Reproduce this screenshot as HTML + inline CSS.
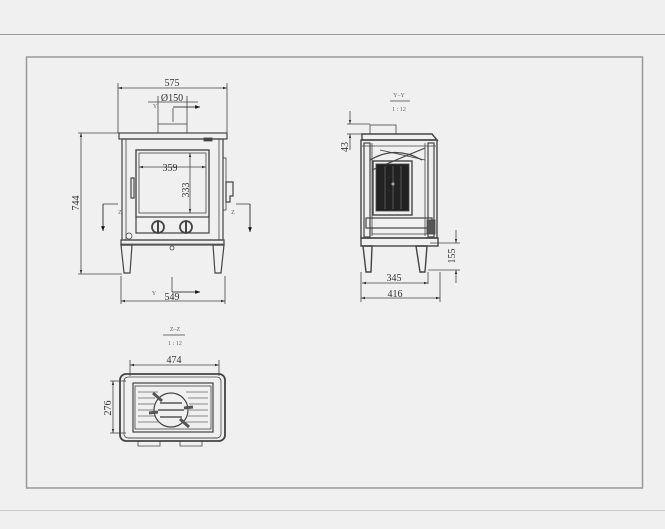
<!DOCTYPE html>
<html><head><meta charset="utf-8"><style>
html,body{margin:0;padding:0;background:#f0f0f0;}
svg{display:block}
text{font-family:"Liberation Serif",serif;fill:#333;}
</style></head><body>
<svg width="665" height="529" viewBox="0 0 665 529" xmlns="http://www.w3.org/2000/svg">
<defs>
<marker id="a" viewBox="0 0 10 10" refX="10" refY="5" markerWidth="5" markerHeight="5" orient="auto-start-reverse"><path d="M0,2 L10,5 L0,8z" fill="#333"/></marker>
<marker id="b" viewBox="0 0 10 10" refX="10" refY="5" markerWidth="8" markerHeight="6" orient="auto"><path d="M0,1 L10,5 L0,9z" fill="#111"/></marker>
</defs>
<rect width="665" height="529" fill="#f0f0f0"/>
<line x1="0" y1="34.5" x2="665" y2="34.5" stroke="#999" stroke-width="1"/>
<rect x="26.5" y="57" width="616" height="431" fill="none" stroke="#999" stroke-width="1.5"/>
<line x1="0" y1="510.5" x2="665" y2="510.5" stroke="#ccc" stroke-width="1"/>

<g stroke="#444" fill="none" stroke-width="0.8">
<!-- FRONT VIEW -->
<line x1="118" y1="83" x2="118" y2="133"/><line x1="227" y1="83" x2="227" y2="133"/>
<line x1="118" y1="88" x2="227" y2="88" marker-start="url(#a)" marker-end="url(#a)"/>
<line x1="148" y1="102" x2="198" y2="102"/>
<line x1="158" y1="96" x2="158" y2="124"/><line x1="187" y1="96" x2="187" y2="124"/>
<line x1="173" y1="108" x2="173" y2="122"/><line x1="173" y1="107" x2="200" y2="107" marker-end="url(#b)" stroke="#111"/>
<rect x="158" y="124" width="29" height="9"/>
<rect x="119" y="133" width="108" height="6" stroke-width="1.2"/>
<rect x="122" y="139" width="101" height="101" stroke-width="1.2"/>
<line x1="126" y1="139" x2="126" y2="240"/><line x1="219" y1="139" x2="219" y2="240"/>
<rect x="136" y="150" width="73" height="83" stroke-width="1.2"/>
<rect x="136" y="150" width="73" height="67" stroke-width="1.2"/>
<rect x="139" y="153" width="67" height="60"/>
<rect x="131" y="178" width="3" height="20" stroke-width="1.2"/>
<circle cx="158" cy="227" r="6" stroke-width="1.8"/><line x1="158" y1="221" x2="158" y2="233" stroke-width="2"/>
<circle cx="186" cy="227" r="6" stroke-width="1.8"/><line x1="186" y1="221" x2="186" y2="233" stroke-width="2"/>
<circle cx="129" cy="236" r="3"/>
<rect x="223" y="158" width="3" height="52"/>
<path d="M226,182 h7 v14 h-3 v6 h-4z" stroke-width="1.2"/>
<rect x="204" y="138" width="8" height="3" fill="#444"/>
<rect x="121" y="240" width="103" height="5" stroke-width="1.2"/>
<line x1="121" y1="244" x2="224" y2="244"/>
<path d="M121,245 L132,245 L130,273 L124,273 Z" stroke-width="1.2"/>
<path d="M213,245 L224,245 L221,273 L215,273 Z" stroke-width="1.2"/>
<circle cx="172" cy="248" r="2"/>
<!-- 744 -->
<line x1="78" y1="133" x2="120" y2="133"/><line x1="78" y1="274" x2="122" y2="274"/>
<line x1="81" y1="133" x2="81" y2="274" marker-start="url(#a)" marker-end="url(#a)"/>
<!-- 549 -->
<line x1="121" y1="276" x2="121" y2="304"/><line x1="225" y1="276" x2="225" y2="304"/>
<line x1="121" y1="301" x2="225" y2="301" marker-start="url(#a)" marker-end="url(#a)"/>
<line x1="172" y1="277" x2="172" y2="292"/><line x1="172" y1="292" x2="200" y2="292" marker-end="url(#b)" stroke="#111"/>
<!-- 359 / 333 -->
<line x1="139" y1="167" x2="206" y2="167" marker-start="url(#a)" marker-end="url(#a)"/>
<line x1="190" y1="153" x2="190" y2="213" marker-start="url(#a)" marker-end="url(#a)"/>
<!-- Z markers -->
<line x1="103" y1="204" x2="118" y2="204"/><line x1="103" y1="204" x2="103" y2="231" marker-end="url(#b)" stroke="#111"/>
<line x1="236" y1="204" x2="250" y2="204"/><line x1="250" y1="204" x2="250" y2="232" marker-end="url(#b)" stroke="#111"/>

<!-- SIDE VIEW -->
<line x1="390" y1="101" x2="410" y2="101"/>
<line x1="347" y1="124" x2="370" y2="124"/><line x1="347" y1="134" x2="362" y2="134"/>
<line x1="350" y1="111" x2="350" y2="124" marker-end="url(#a)"/><line x1="350" y1="150" x2="350" y2="134" marker-end="url(#a)"/>
<rect x="370" y="125" width="26" height="9"/>
<path d="M362,134 L432,134 L437,140 L362,140 Z" stroke-width="1.4"/>
<rect x="361" y="140" width="76" height="98" stroke-width="1.4"/>
<rect x="364" y="143" width="6" height="94" stroke-width="1.2"/>
<rect x="428" y="143" width="6" height="94" stroke-width="1.2"/>
<line x1="372" y1="143" x2="372" y2="236"/><line x1="425" y1="143" x2="425" y2="236"/>
<line x1="362" y1="146" x2="436" y2="146"/>
<path d="M370,160 Q395,145 422,160" stroke-width="1.2"/>
<line x1="372" y1="170" x2="425" y2="148" stroke-width="1.2"/>
<line x1="380" y1="150" x2="425" y2="160"/>
<rect x="373" y="161" width="39" height="54" stroke-width="1.4"/>
<rect x="376" y="164" width="33" height="47" fill="#222"/>
<line x1="385" y1="166" x2="385" y2="209" stroke="#666"/><line x1="393" y1="166" x2="393" y2="209" stroke="#666"/><line x1="401" y1="166" x2="401" y2="209" stroke="#666"/>
<circle cx="393" cy="184" r="1.5" fill="#aaa" stroke="none"/>
<rect x="366" y="218" width="66" height="10" stroke-width="1.2"/>
<rect x="372" y="228" width="55" height="6"/>
<rect x="427" y="220" width="8" height="14" fill="#555"/>
<rect x="361" y="238" width="77" height="8" stroke-width="1.4"/>
<path d="M363,246 L372,246 L371,272 L366,272 Z" stroke-width="1.4"/>
<path d="M416,246 L427,246 L425,272 L420,272 Z" stroke-width="1.4"/>
<!-- 155 -->
<line x1="430" y1="243" x2="460" y2="243"/><line x1="428" y1="270" x2="460" y2="270"/>
<line x1="456" y1="230" x2="456" y2="243" marker-end="url(#a)"/><line x1="456" y1="283" x2="456" y2="270" marker-end="url(#a)"/>
<!-- 345 / 416 -->
<line x1="361" y1="272" x2="361" y2="302"/><line x1="440" y1="272" x2="440" y2="302"/>
<line x1="428" y1="272" x2="428" y2="284"/>
<line x1="362" y1="283" x2="428" y2="283" marker-start="url(#a)" marker-end="url(#a)"/>
<line x1="361" y1="298" x2="440" y2="298" marker-start="url(#a)" marker-end="url(#a)"/>

<!-- TOP VIEW -->
<line x1="163" y1="335" x2="185" y2="335"/>
<line x1="130" y1="360" x2="130" y2="376"/><line x1="219" y1="360" x2="219" y2="376"/>
<line x1="130" y1="365" x2="219" y2="365" marker-start="url(#a)" marker-end="url(#a)"/>
<line x1="110" y1="381" x2="126" y2="381"/><line x1="110" y1="433" x2="126" y2="433"/>
<line x1="113" y1="381" x2="113" y2="433" marker-start="url(#a)" marker-end="url(#a)"/>
<rect x="120" y="374" width="105" height="67" rx="6" stroke-width="1.8"/>
<rect x="124" y="377" width="97" height="61" rx="4"/>
<rect x="133" y="383" width="80" height="49" stroke-width="1.2"/>
<rect x="135" y="386" width="76" height="43"/>
<g stroke="#666">
<line x1="138" y1="392" x2="158" y2="392"/><line x1="138" y1="398" x2="155" y2="398"/><line x1="138" y1="404" x2="154" y2="404"/><line x1="138" y1="410" x2="154" y2="410"/><line x1="138" y1="416" x2="155" y2="416"/><line x1="138" y1="422" x2="158" y2="422"/>
<line x1="186" y1="392" x2="208" y2="392"/><line x1="188" y1="398" x2="208" y2="398"/><line x1="189" y1="404" x2="208" y2="404"/><line x1="189" y1="410" x2="208" y2="410"/><line x1="188" y1="416" x2="208" y2="416"/><line x1="186" y1="422" x2="208" y2="422"/>
</g>
<circle cx="171" cy="410" r="17" stroke-width="1.2"/>
<g stroke="#555" stroke-width="1.5">
<line x1="160" y1="403" x2="182" y2="403"/><line x1="158" y1="410" x2="184" y2="410"/><line x1="160" y1="417" x2="182" y2="417"/>
</g>
<path d="M153,393 L162,401 M189,427 L180,419 M149,413 L158,412 M193,407 L184,408" stroke-width="3" stroke="#555"/>
<path d="M128,438 h90 M138,441 v5 h22 v-5 M180,441 v5 h22 v-5"/>
</g>

<g font-size="10" text-anchor="middle">
<text x="172" y="86">575</text>
<text x="172" y="101">Ø150</text>
<text x="170" y="171">359</text>
<text x="189" y="190" transform="rotate(-90 189 190)">333</text>
<text x="79" y="203" transform="rotate(-90 79 203)">744</text>
<text x="172" y="300">549</text>
<text x="394" y="281">345</text>
<text x="395" y="297">416</text>
<text x="348" y="147" transform="rotate(-90 348 147)">43</text>
<text x="455" y="256" transform="rotate(-90 455 256)">155</text>
<text x="174" y="363">474</text>
<text x="111" y="408" transform="rotate(-90 111 408)">276</text>
</g>
<g font-size="6" text-anchor="middle">
<text x="154" y="295" style="fill:#666">Y</text>
<text x="155" y="108" style="fill:#666">Y</text>
<text x="120" y="214" style="fill:#666">Z</text>
<text x="233" y="214" style="fill:#666">Z</text>
<text x="399" y="97" style="fill:#666">Y–Y</text>
<text x="399" y="111" style="fill:#666">1 : 12</text>
<text x="175" y="331" style="fill:#666">Z–Z</text>
<text x="175" y="345" style="fill:#666">1 : 12</text>
</g>
</svg>
</body></html>
